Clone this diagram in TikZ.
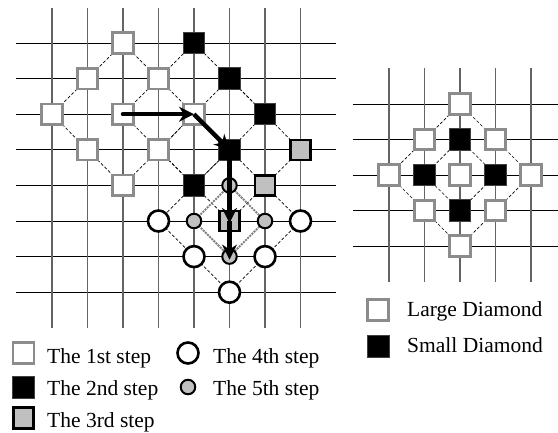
\documentclass[tikz,border=0pt]{standalone}
\usepackage{fontspec}
\setmainfont{Liberation Serif}
\usetikzlibrary{arrows.meta}
\definecolor{bordergray}{RGB}{140,140,140}
\definecolor{fillgray}{RGB}{192,192,192}
\definecolor{vgray}{RGB}{100,100,100}
\tikzset{
  sqone/.style={rectangle,draw=bordergray,fill=white,line width=2.6pt,minimum size=20.5pt,inner sep=0pt},
  sqtwo/.style={rectangle,draw=black!75,fill=black,line width=1pt,minimum size=21.5pt,inner sep=0pt},
  sqthree/.style={rectangle,draw=black,fill=fillgray,line width=2.6pt,minimum size=20pt,inner sep=0pt},
  cfour/.style={circle,draw=black,fill=white,line width=2.6pt,minimum size=21pt,inner sep=0pt},
  cfive/.style={circle,draw=black,fill=fillgray,line width=2pt,minimum size=14.5pt,inner sep=0pt},
  hline/.style={line width=1pt,black},
  vline/.style={line width=1.2pt,vgray},
  thindash/.style={line width=0.7pt,black,dash pattern=on 3pt off 2pt},
  graydash/.style={line width=2pt,gray,dash pattern=on 2pt off 1pt},
  movearrow/.style={line width=4.5pt,black,-{Stealth[length=15pt,width=15pt]}},
  txt/.style={anchor=base west,inner sep=0pt,font=\fontsize{21.5pt}{24pt}\selectfont},
}
\begin{document}
\begin{tikzpicture}[x=1pt,y=-1pt]
\useasboundingbox (0,0) rectangle (558,432);
% coordinates
\foreach \i in {0,...,7}{\foreach \j in {0,...,7}{
  \coordinate (g\i\j) at ({52+35.5*\i},{43+35.6*\j});}}
\foreach \i in {0,...,4}{\foreach \j in {0,...,4}{
  \coordinate (r\i\j) at ({389+35.5*\i},{104+35.5*\j});}}
% left grid
\foreach \j in {0,...,7}{\draw[hline] (16,{43+35.6*\j}) -- (336,{43+35.6*\j});}
\foreach \i in {0,...,7}{\draw[vline] ({52+35.5*\i},8) -- ({52+35.5*\i},328);}
% right grid
\foreach \j in {0,...,4}{\draw[hline] (353,{104+35.5*\j}) -- (558,{104+35.5*\j});}
\foreach \i in {0,...,4}{\draw[vline] ({389+35.5*\i},68) -- ({389+35.5*\i},282);}
% dashed diamonds left
\draw[thindash] (g20) -- (g02) -- (g24) -- (g42) -- cycle;
\draw[thindash] (g40) -- (g22) -- (g44) -- (g62) -- cycle;
\draw[thindash] (g51) -- (g33) -- (g55) -- (g73) -- cycle;
\draw[thindash] (g53) -- (g35) -- (g57) -- (g75) -- cycle;
\draw[graydash] (g54) -- (g45) -- (g56) -- (g65) -- cycle;
% dashed diamonds right
\draw[thindash] (r20) -- (r02) -- (r24) -- (r42) -- cycle;
\draw[thindash] (r21) -- (r12) -- (r23) -- (r32) -- cycle;
% step 1
\foreach \p in {20,11,31,02,22,42,13,33,24}{\node[sqone] (a\p) at (g\p) {};}
% step 2
\foreach \p in {40,51,62,53,44}{\node[sqtwo] (b\p) at (g\p) {};}
% step 3
\foreach \p in {73,64,55}{\node[sqthree] (c\p) at (g\p) {};}
% step 4
\foreach \p in {35,75,46,66,57}{\node[cfour] (d\p) at (g\p) {};}
% step 5
\foreach \p in {54,45,65,56}{\node[cfive] (e\p) at (g\p) {};}
% right nodes
\foreach \p in {20,11,31,02,22,42,13,33,24}{\node[sqone] (ra\p) at (r\p) {};}
\foreach \p in {21,12,32,23}{\node[sqtwo] (rb\p) at (r\p) {};}
% arrows
\draw[movearrow,line cap=round] (g22) -- (g42);
\draw[movearrow] (g42) -- (g53);
\draw[movearrow] (g53) -- ([yshift=-2pt]g55);
\draw[movearrow] (g55) -- ([yshift=-3pt]g56);
% legend left
\node[sqone,minimum size=21pt] (k1) at (23.5,353) {};
\node[txt] (t1) at (47,363) {The 1st step};
\node[sqtwo,minimum size=22pt] (k2) at (23.5,387) {};
\node[txt] (t2) at (47,395) {The 2nd step};
\node[sqthree,minimum size=20.5pt] (k3) at (23.5,418) {};
\node[txt] (t3) at (47,427) {The 3rd step};
\node[cfour] (k4) at (188,353) {};
\node[txt] (t4) at (213,363) {The 4th step};
\node[cfive] (k5) at (188,387) {};
\node[txt] (t5) at (213,395) {The 5th step};
% legend right
\node[sqone,minimum size=21pt] (k6) at (378,310) {};
\node[txt] (t6) at (407,316) {Large Diamond};
\node[sqtwo,minimum size=22pt] (k7) at (378,346) {};
\node[txt] (t7) at (407,352) {Small Diamond};
\end{tikzpicture}
\end{document}
